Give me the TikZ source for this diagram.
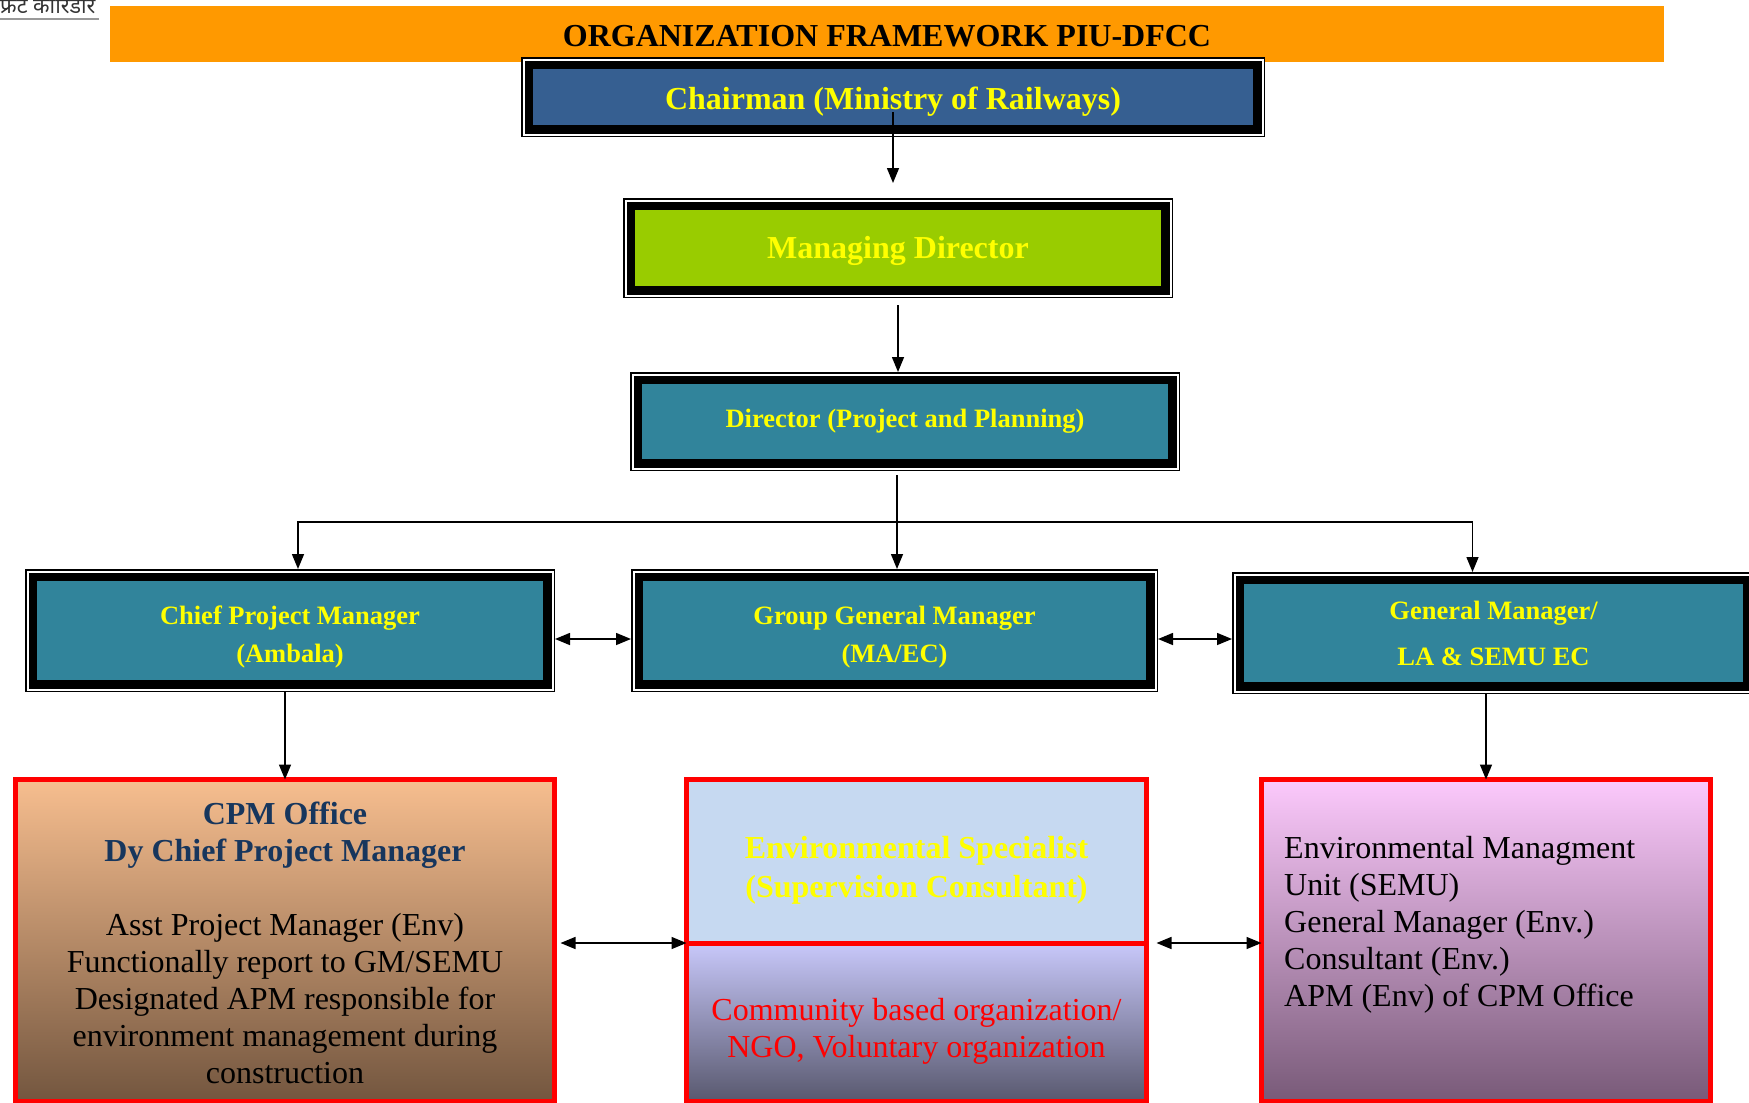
\documentclass[tikz,border=0pt]{standalone}
\usepackage{fontspec}
\setmainfont{Liberation Serif}
\newfontfamily\devfont[Script=Devanagari]{Noto Sans}
\usetikzlibrary{arrows.meta,calc}
\definecolor{orng}{HTML}{FF9900}
\definecolor{chairblue}{HTML}{365F91}
\definecolor{mdgreen}{HTML}{99CC00}
\definecolor{tealbox}{HTML}{31849B}
\definecolor{navytxt}{HTML}{17365D}
\definecolor{envblue}{HTML}{C6D9F1}
\definecolor{ylw}{HTML}{FFFF00}
\definecolor{cpmtop}{HTML}{F7BE8F}
\definecolor{cpmbot}{HTML}{73563F}
\definecolor{cbotop}{HTML}{C8C8FA}
\definecolor{cbobot}{HTML}{58586E}
\definecolor{semutop}{HTML}{FCC9FC}
\definecolor{semubot}{HTML}{785A78}
\begin{document}
\begin{tikzpicture}[x=1pt,y=-1pt,
  tier/.style={rectangle, inner sep=0pt, outer sep=7.75pt, draw=black, line width=8.5pt,
    preaction={draw=black, line width=15.5pt},
    preaction={draw=white, line width=12.5pt}},
  tiertext/.style={inner sep=0pt, text=ylw, align=center},
  bigfont/.style={font=\fontsize{32}{37}\selectfont\bfseries},
  midfont/.style={font=\fontsize{26.5}{38}\selectfont\bfseries},
  redbox/.style={rectangle, inner sep=0pt, outer sep=0pt, draw=red, line width=5pt},
  boxtext/.style={inner sep=0pt, font=\fontsize{32}{37}\selectfont},
  conn/.style={line width=1.5pt, black},
  arr/.style={conn, -{Triangle[length=15pt,width=12pt]}},
  darr/.style={conn, {Triangle[length=15pt,width=12pt]}-{Triangle[length=15pt,width=12pt]}}]
\useasboundingbox (0,0) rectangle (1749,1103);
\clip (0,0) rectangle (1749,1103);

% header fragment
\node[anchor=base west, inner sep=0pt, text=black!80, font=\devfont\fontsize{21.5}{24}\selectfont] (hindi) at (0,13) {फ्रेट कॉरिडोर};
\draw[black!40, line width=1.2pt] (0,19) -- (99,19);

% title bar
\node[fill=orng, minimum width=1554pt, minimum height=56pt, inner sep=0pt] (title) at (887,34) {};
\node[inner sep=0pt, font=\fontsize{32}{37}\selectfont\bfseries] (titletxt) at ($(title.center)+(0,2)$) {ORGANIZATION FRAMEWORK PIU-DFCC};

% top tiers
\node[tier, fill=chairblue, minimum width=728.5pt, minimum height=64.5pt] (chair) at (893,97) {};
\node[tiertext, bigfont] (chairtxt) at ($(chair.center)+(0,4.5)$) {Chairman (Ministry of Railways)};
\node[tier, fill=mdgreen, minimum width=534.5pt, minimum height=84.5pt] (md) at (898,248) {};
\node[tiertext, bigfont] (mdtxt) at ($(md.center)+(0,3)$) {Managing Director};
\node[tier, fill=tealbox, minimum width=534.5pt, minimum height=83.5pt] (dir) at (905,421.5) {};
\node[tiertext, midfont] (dirtxt) at (dir.center) {Director (Project and Planning)};

% second tier
\node[tier, fill=tealbox, minimum width=514.5pt, minimum height=107.5pt] (cpm) at (290,630.5) {};
\node[tiertext, midfont] (cpmtxt2) at ($(cpm.center)+(0,6)$) {Chief Project Manager\\(Ambala)};
\node[tier, fill=tealbox, minimum width=511.5pt, minimum height=107.5pt] (ggm) at (894.5,630.5) {};
\node[tiertext, midfont] (ggmtxt) at ($(ggm.center)+(0,7)$) {Group General Manager\\(MA/EC)};
\node[tier, fill=tealbox, minimum width=507.5pt, minimum height=106.5pt] (gm) at (1493.5,633) {};
\node[tiertext, midfont] (gmtxt) at (gm.center) {General Manager/\\[8pt]LA \& SEMU EC};

% bottom boxes
\node[redbox, top color=cpmtop, bottom color=cpmbot, minimum width=539pt, minimum height=322pt] (cpmoff) at (285,940.5) {};
\node[redbox, fill=envblue, minimum width=460pt, minimum height=163.5pt] (envspec) at (916.5,861.25) {};
\node[redbox, top color=cbotop, bottom color=cbobot, minimum width=460pt, minimum height=158.5pt] (cbo) at (916.5,1022.25) {};
\draw[red, line width=5pt] (envspec.south west) -- (envspec.south east);
\node[redbox, top color=semutop, bottom color=semubot, minimum width=449pt, minimum height=322pt] (semu) at (1486,940.5) {};

% texts in bottom boxes
\node[boxtext, align=center] (cpmtxt) at (285,942.5) {\textcolor{navytxt}{\bfseries CPM Office}\\
  \textcolor{navytxt}{\bfseries Dy Chief Project Manager}\\[37pt]
  Asst Project Manager (Env)\\
  Functionally report to GM/SEMU\\
  Designated APM responsible for\\
  environment management during\\
  construction};
\node[boxtext, align=center, text=ylw, font=\fontsize{32}{39}\selectfont\bfseries] (envtxt) at (916.5,870.5) {Environmental Specialist\\(Supervision Consultant)};
\node[boxtext, align=center, text=red] (cbotxt) at (916.5,1031.5) {Community based organization/\\NGO, Voluntary organization};
\node[boxtext, align=left, anchor=west] (semutxt) at (1284,924.5) {Environmental Managment\\Unit (SEMU)\\General Manager (Env.)\\Consultant (Env.)\\APM (Env) of CPM Office};

% connectors
\draw[arr] ($(chair.center)+(0,15)$) -- ($(chair.center |- md.north)+(0,-15)$);
\draw[arr] ($(md.south)+(0,7)$) -- (md.south |- dir.north);
\coordinate (bus) at ($(dir.south)+(-8,51)$);
\draw[conn] ($(dir.south)+(-8,4)$) -- (bus);
\draw[arr] (bus) -| ($(cpm.north)+(8,0)$);
\draw[arr] (bus) -- (bus |- ggm.north);
\draw[arr] (bus) -| ($(gm.north)+(-21,0)$);
\draw[darr] ($(cpm.east)+(0,8.5)$) -- ($(ggm.west)+(0,8.5)$);
\draw[darr] ($(ggm.east)+(0,8.5)$) -- ($(gm.west)+(0,6)$);
\draw[arr] (cpmoff.north |- cpm.south) -- (cpmoff.north);
\draw[arr] (semu.north |- gm.south) -- (semu.north);
\draw[darr] ($(cpmoff.east |- envspec.south)+(6,0)$) -- (envspec.south west);
\draw[darr] ($(envspec.south east)+(10,0)$) -- (envspec.south east -| semu.west);
\end{tikzpicture}
\end{document}
